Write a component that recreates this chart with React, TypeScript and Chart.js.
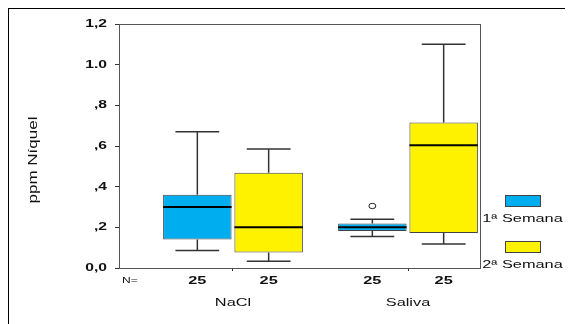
import React, { useEffect, useRef } from 'react';
import { Chart, registerables } from 'chart.js';

Chart.register(...registerables);

// ---- data ----
const categories = ['NaCl', 'Saliva'];
const seriesLabels = ['1ª Semana', '2ª Semana'];
const seriesColors = ['#00AEEF', '#FFF200'];

const week1Min = [0.086, 0.155];
const week1Q1 = [0.14, 0.182];
const week1Median = [0.30, 0.20];
const week1Q3 = [0.36, 0.219];
const week1Max = [0.67, 0.24];
const week1Outliers = [[], [0.305]];
const week1N = [25, 25];

const week2Min = [0.033, 0.118];
const week2Q1 = [0.076, 0.172];
const week2Median = [0.20, 0.604];
const week2Q3 = [0.468, 0.716];
const week2Max = [0.585, 1.10];
const week2Outliers = [[], []];
const week2N = [25, 25];

const yTickLabels = ['0,0', ',2', ',4', ',6', ',8', '1.0', '1,2'];
const yTitle = 'ppm Níquel';
const nLabel = 'N=';

const FONT = '"Liberation Sans", Arial, sans-serif';
const SX = 1.42;

function txt(ctx: CanvasRenderingContext2D, s: string, x: number, y: number, size: number, bold: boolean, align: CanvasTextAlign, baseline: CanvasTextBaseline, rot = 0) {
  ctx.save();
  ctx.font = `${bold ? 'bold ' : ''}${size}px ${FONT}`;
  ctx.fillStyle = '#111';
  ctx.textAlign = align;
  ctx.textBaseline = baseline;
  ctx.translate(x, y);
  if (rot) ctx.rotate(rot);
  ctx.scale(SX, 1);
  ctx.fillText(s, 0, 0);
  ctx.restore();
}

const boxPlugin = {
  id: 'boxExtras',
  beforeDatasetsDraw(chart: any) {
    const { ctx, chartArea: a } = chart;
    ctx.save();
    ctx.strokeStyle = '#555';
    ctx.lineWidth = 1;
    ctx.strokeRect(Math.round(a.left) + 0.5, Math.round(a.top) + 0.5, Math.round(a.right - a.left), Math.round(a.bottom - a.top));
    ctx.restore();
  },
  afterDatasetsDraw(chart: any) {
    const { ctx, chartArea: a } = chart;
    const yS = chart.scales.y;
    const xS = chart.scales.x;
    chart.data.datasets.forEach((ds: any, di: number) => {
      const meta = chart.getDatasetMeta(di);
      meta.data.forEach((el: any, i: number) => {
        const { x, width } = el.getProps(['x', 'width'], true);
        const st = ds.stats;
        const yMin = yS.getPixelForValue(st.min[i]);
        const yQ1 = yS.getPixelForValue(st.q1[i]);
        const yMed = yS.getPixelForValue(st.median[i]);
        const yQ3 = yS.getPixelForValue(st.q3[i]);
        const yMax = yS.getPixelForValue(st.max[i]);
        const cap = width * 0.64;
        ctx.save();
        ctx.strokeStyle = '#333';
        ctx.lineWidth = 1.5;
        ctx.beginPath();
        ctx.moveTo(x, yQ3); ctx.lineTo(x, yMax);
        ctx.moveTo(x - cap / 2, yMax); ctx.lineTo(x + cap / 2, yMax);
        ctx.moveTo(x, yQ1); ctx.lineTo(x, yMin);
        ctx.moveTo(x - cap / 2, yMin); ctx.lineTo(x + cap / 2, yMin);
        ctx.stroke();
        ctx.strokeStyle = '#000';
        ctx.lineWidth = 2;
        ctx.beginPath();
        ctx.moveTo(x - width / 2, yMed); ctx.lineTo(x + width / 2, yMed);
        ctx.stroke();
        ctx.lineWidth = 1;
        ctx.strokeStyle = '#222';
        st.outliers[i].forEach((v: number) => {
          const yo = yS.getPixelForValue(v);
          ctx.beginPath();
          ctx.ellipse(x, yo, 3.5, 2.7, 0, 0, Math.PI * 2);
          ctx.fillStyle = '#fff';
          ctx.fill();
          ctx.stroke();
        });
        ctx.restore();
        txt(ctx, String(st.n[i]), x, a.bottom + 16, 11.5, true, 'center', 'alphabetic');
      });
    });
    // y tick labels
    yS.ticks.forEach((t: any, i: number) => {
      txt(ctx, yTickLabels[i] ?? '', a.left - 12, yS.getPixelForValue(t.value), 11, true, 'right', 'middle');
    });
    // N=
    txt(ctx, nLabel, a.left + 3, a.bottom + 15, 8.5, false, 'left', 'alphabetic');
    // group labels
    categories.forEach((c, i) => {
      txt(ctx, c, xS.getPixelForValue(i + 1), a.bottom + 38, 11.5, false, 'center', 'alphabetic');
    });
    // y title
    txt(ctx, yTitle, a.left - 82, a.bottom - 108, 12, false, 'center', 'alphabetic', -Math.PI / 2);
    // legend
    const lx = a.right + 25;
    const rectTops = [a.bottom - 72.7, a.bottom - 27.3];
    const textBase = [a.bottom - 46.3, a.bottom + 0.3];
    chart.data.datasets.forEach((ds: any, di: number) => {
      ctx.save();
      ctx.fillStyle = ds.backgroundColor;
      ctx.strokeStyle = '#444';
      ctx.lineWidth = 1;
      const ry = Math.round(rectTops[di]) + 0.5;
      ctx.fillRect(lx + 0.5, ry, 35, 11);
      ctx.strokeRect(lx + 0.5, ry, 35, 11);
      ctx.restore();
      txt(ctx, ds.label, lx + 17.5, textBase[di], 11.5, false, 'center', 'alphabetic');
    });
  },
};

function makeDataset(label: string, color: string, q1: number[], q3: number[], stats: any) {
  return {
    label,
    backgroundColor: color,
    borderColor: '#444',
    borderWidth: 1,
    borderSkipped: false,
    data: categories.map((_, i) => ({ x: i + 1, y: [q1[i], q3[i]] })),
    stats,
  };
}

export default function App() {
  const ref = useRef<HTMLCanvasElement>(null);
  useEffect(() => {
    const canvas = ref.current!;
    const chart = new Chart(canvas, {
      type: 'bar',
      data: {
        datasets: [
          makeDataset(seriesLabels[0], seriesColors[0], week1Q1, week1Q3, {
            min: week1Min, q1: week1Q1, median: week1Median, q3: week1Q3, max: week1Max, outliers: week1Outliers, n: week1N,
          }),
          makeDataset(seriesLabels[1], seriesColors[1], week2Q1, week2Q3, {
            min: week2Min, q1: week2Q1, median: week2Median, q3: week2Q3, max: week2Max, outliers: week2Outliers, n: week2N,
          }),
        ] as any,
      },
      options: {
        responsive: false,
        animation: false,
        devicePixelRatio: 1,
        categoryPercentage: 0.815,
        barPercentage: 0.96,
        layout: { padding: { left: 0, top: 15, right: 93, bottom: 0 } },
        plugins: { legend: { display: false }, tooltip: { enabled: false } },
        scales: {
          x: {
            type: 'linear',
            bounds: 'data',
            offset: false,
            min: 0.3486,
            max: 2.4114,
            ticks: { display: false },
            grid: { display: true, offset: false, drawOnChartArea: false, drawTicks: true, tickLength: 3, color: '#333' },
            border: { display: false },
            afterBuildTicks: (s: any) => { s.ticks = categories.map((_, i) => ({ value: i + 1 })); },
            afterFit: (s: any) => { s.height = 56; },
          },
          y: {
            min: 0,
            max: 1.2,
            ticks: { display: false, stepSize: 0.2 },
            grid: { display: true, drawOnChartArea: false, drawTicks: true, tickLength: 4, color: '#333' },
            border: { display: false },
            afterFit: (s: any) => { s.width = 110; },
          },
        } as any,
      } as any,
      plugins: [boxPlugin as any],
    });
    return () => chart.destroy();
  }, []);
  return (
    <div style={{ width: 565, height: 316, boxSizing: 'border-box', borderTop: '1px solid #000', borderLeft: '1px solid #000', background: '#fff' }}>
      <canvas ref={ref} width={564} height={315} style={{ display: 'block', width: 564, height: 315 }} />
    </div>
  );
}
